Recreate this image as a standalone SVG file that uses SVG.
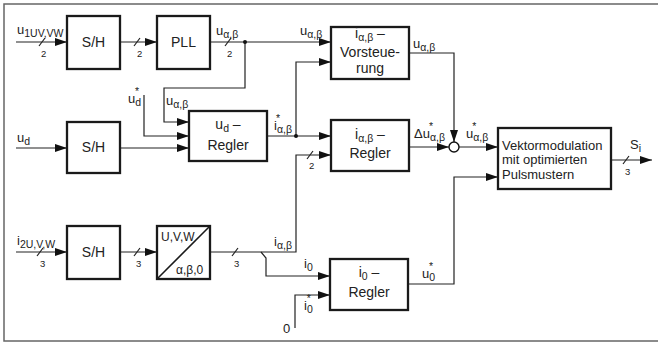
<svg xmlns="http://www.w3.org/2000/svg" width="658" height="344" viewBox="0 0 658 344">
<style>
  .box { fill: #fff; stroke: #1a1a1a; stroke-width: 2.3; }
  .ln { fill: none; stroke: #222; stroke-width: 1.2; }
  .arr { fill: none; stroke: #222; stroke-width: 1.2; marker-end: url(#ah); }
  .frame { fill: none; stroke: #666; stroke-width: 1.5; }
  text { font-family: "Liberation Sans", Arial, sans-serif; fill: #222; }
  .bl { font-size: 14px; text-anchor: middle; }
  .bll { font-size: 13px; }
  .lb { font-size: 13px; }
  .sm { font-size: 9.5px; }
  .sub { font-size: 10.5px; }
</style>
<defs>
  <marker id="ah" markerUnits="userSpaceOnUse" markerWidth="12" markerHeight="8" refX="12" refY="4" orient="auto">
    <path d="M0,0 L12,4 L0,8 z" fill="#111"/>
  </marker>
</defs>
<rect width="658" height="344" fill="#fff"/>
<path class="frame" d="M658,4 H4 V341 H658"/>

<g id="connectors">
  <path class="arr" d="M16,42 H67"/>
  <path class="arr" d="M120,42 H157"/>
  <path class="arr" d="M210,42 H331"/>
  <path class="arr" d="M245,42 V88 H164 V122 H189"/>
  <path class="arr" d="M144,95 V136 H189"/>
  <path class="arr" d="M16,148 H67"/>
  <path class="arr" d="M120,148 H189"/>
  <path class="arr" d="M267,136 H331"/>
  <path class="arr" d="M296,136 V62 H331"/>
  <path class="arr" d="M409,53 H454 V142"/>
  <path class="arr" d="M409,147 H449"/>
  <path class="arr" d="M459,147 H498"/>
  <path class="arr" d="M408,284 H454 V177 H498"/>
  <path class="arr" d="M611,160 H652"/>
  <path class="arr" d="M16,252 H67"/>
  <path class="arr" d="M120,252 H157"/>
  <path class="arr" d="M210,252 H296 V155 H331"/>
  <path class="arr" d="M261,252 L266,258 V276 H330"/>
  <path class="arr" d="M295,328 V295 H330"/>
  <circle cx="245" cy="42" r="2" fill="#111"/>
  <circle cx="296" cy="136" r="2" fill="#111"/>
  <circle cx="454" cy="147" r="5" fill="#fff" stroke="#111" stroke-width="1.4"/>
  <path class="ln" d="M39,46 L45,38 M134,46 L140,38 M225,46 L231,38 M307,159 L313,151 M37,256 L43,248 M134,256 L140,248 M232,256 L238,248 M623,164 L629,156"/>
</g>

<g id="bus-labels" class="sm">
  <text x="41" y="57">2</text>
  <text x="137" y="57">2</text>
  <text x="227" y="57">2</text>
  <text x="309" y="169">2</text>
  <text x="40" y="267">3</text>
  <text x="136" y="267">3</text>
  <text x="234" y="267">3</text>
  <text x="625" y="175">3</text>
</g>

<g id="line-labels" class="lb">
  <text x="17" y="34">u<tspan class="sub" font-size="11.5" dy="3">1UV,VW</tspan></text>
  <text x="17" y="142">u<tspan class="sub" dy="3">d</tspan></text>
  <text x="17" y="245">i<tspan class="sub" font-size="11.5" dy="3">2U,V,W</tspan></text>
  <text x="216" y="35">u<tspan class="sub" dy="3">α,β</tspan></text>
  <text x="300" y="35">u<tspan class="sub" dy="3">α,β</tspan></text>
  <text x="413" y="48">u<tspan class="sub" dy="3">α,β</tspan></text>
  <text x="166" y="105">u<tspan class="sub" dy="3">α,β</tspan></text>
  <text x="128" y="103">u<tspan class="sub" dy="3">d</tspan><tspan class="sub" dx="-6" dy="-11">*</tspan></text>
  <text x="274" y="130">i<tspan class="sub" dy="3">α,β</tspan><tspan class="sub" dx="-16" dy="-11">*</tspan></text>
  <text x="414" y="138">Δu<tspan class="sub" dy="3">α,β</tspan><tspan class="sub" dx="-16" dy="-11">*</tspan></text>
  <text x="466" y="138">u<tspan class="sub" dy="3">α,β</tspan><tspan class="sub" dx="-16" dy="-11">*</tspan></text>
  <text x="630" y="149">S<tspan class="sub" dy="3">i</tspan></text>
  <text x="274" y="246">i<tspan class="sub" dy="3">α,β</tspan></text>
  <text x="304" y="268">i<tspan class="sub" dy="3">0</tspan></text>
  <text x="304" y="310">i<tspan class="sub" dy="3">0</tspan><tspan class="sub" dx="-6" dy="-11">*</tspan></text>
  <text x="283" y="333">0</text>
  <text x="422" y="278">u<tspan class="sub" dy="3">0</tspan><tspan class="sub" dx="-6" dy="-11">*</tspan></text>
</g>

<g id="sh1">
  <rect class="box" x="67" y="16" width="53" height="53"/>
  <text class="bl" x="93.5" y="47">S/H</text>
</g>
<g id="pll">
  <rect class="box" x="157" y="16" width="53" height="53"/>
  <text class="bl" x="183.5" y="47">PLL</text>
</g>
<g id="sh2">
  <rect class="box" x="67" y="122" width="53" height="51"/>
  <text class="bl" x="93.5" y="152">S/H</text>
</g>
<g id="sh3">
  <rect class="box" x="67" y="226" width="53" height="53"/>
  <text class="bl" x="93.5" y="257">S/H</text>
</g>
<g id="transform">
  <rect class="box" x="157" y="226" width="53" height="53"/>
  <path d="M157,279 L210,226" stroke="#1a1a1a" stroke-width="1.6"/>
  <text x="161" y="241" font-size="12">U,V,W</text>
  <text x="176" y="274" font-size="12">α,β,0</text>
</g>
<g id="ud-regler">
  <rect class="box" x="189" y="111" width="78" height="50"/>
  <text class="bl" x="228" y="129">u<tspan class="sub" dy="3">d</tspan><tspan dy="-3"> –</tspan></text>
  <text class="bl" x="228" y="150">Regler</text>
</g>
<g id="vorsteuerung">
  <rect class="box" x="331" y="27" width="78" height="52"/>
  <text class="bl" x="370" y="38">i<tspan class="sub" dy="3">α,β</tspan><tspan dy="-3"> –</tspan></text>
  <text class="bl" x="370" y="57">Vorsteue-</text>
  <text class="bl" x="370" y="73">rung</text>
</g>
<g id="iab-regler">
  <rect class="box" x="331" y="120" width="78" height="51"/>
  <text class="bl" x="370" y="139">i<tspan class="sub" dy="3">α,β</tspan><tspan dy="-3"> –</tspan></text>
  <text class="bl" x="370" y="158">Regler</text>
</g>
<g id="i0-regler">
  <rect class="box" x="330" y="259" width="78" height="51"/>
  <text class="bl" x="369" y="277">i<tspan class="sub" dy="3">0</tspan><tspan dy="-3"> –</tspan></text>
  <text class="bl" x="369" y="297">Regler</text>
</g>
<g id="vektormodulation">
  <rect class="box" x="498" y="128" width="113" height="61"/>
  <text class="bll" x="502" y="150">Vektormodulation</text>
  <text class="bll" x="502" y="164">mit optimierten</text>
  <text class="bll" x="502" y="179">Pulsmustern</text>
</g>
</svg>
